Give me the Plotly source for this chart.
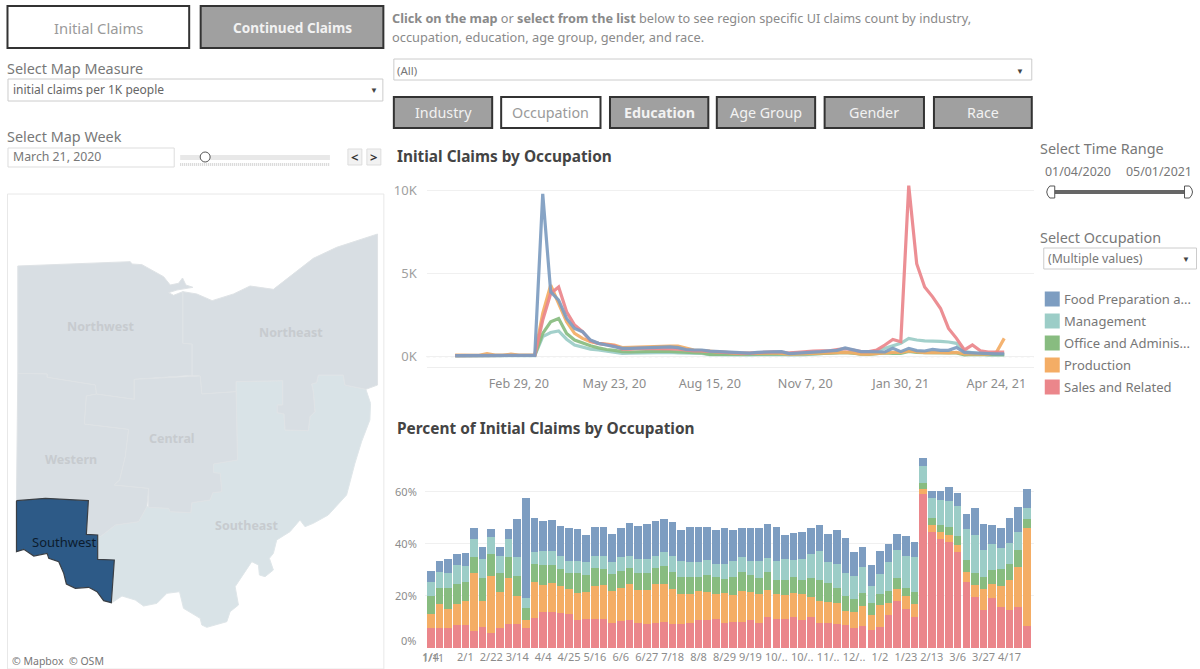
import pandas as pd
import plotly.graph_objects as go

W, H = 1200, 669
weeks = pd.date_range("2020-01-04", "2021-05-01", freq="7D")

legend_labels = ["Food Preparation a...", "Management", "Office and Adminis...", "Production", "Sales and Related"]
colors = {"food": "#7d9dc1", "management": "#9ccdc7", "office": "#88bc80", "production": "#f4ad65", "sales": "#eb868b"}

claims_food = [60,60,60,60,60,60,60,60,60,60,80,9800,3900,3400,2300,1700,1500,1000,800,700,
               620,500,500,520,550,580,600,590,540,430,400,400,330,300,280,230,200,210,260,270,
               280,300,180,200,230,270,300,350,380,520,430,300,300,280,280,500,300,500,360,340,
               430,380,380,550,250,230,200,170,170,170]
claims_management = [50,50,50,50,50,50,50,50,50,50,60,1200,1450,1550,1050,700,550,450,400,330,
                     280,200,210,220,250,260,250,250,220,200,190,190,120,110,110,100,110,110,120,130,
                     130,130,100,100,120,160,180,210,230,260,220,170,200,350,520,680,800,1100,1000,950,
                     950,920,880,800,300,250,160,110,110,110]
claims_office = [60,60,60,60,60,60,60,60,60,60,70,1400,2100,2300,1400,1000,800,650,530,430,
                 380,300,280,290,320,340,330,310,300,260,240,220,140,140,140,130,130,130,140,150,
                 150,150,120,120,160,170,190,220,240,250,210,150,140,200,220,190,190,310,250,240,
                 220,220,220,220,100,140,140,120,120,120]
claims_production = [90,90,90,80,180,90,90,150,90,90,100,2600,4300,3200,2100,1400,1100,900,800,750,
                     700,550,570,580,600,600,640,640,640,500,400,360,330,280,240,200,180,190,210,210,
                     230,200,150,170,190,200,220,260,270,260,220,150,150,200,220,250,250,350,280,240,
                     250,220,230,260,170,170,170,150,250,1100]
claims_sales = [60,60,60,60,60,60,60,60,60,60,70,2200,3800,4200,2700,1900,1500,950,800,720,
                650,450,450,500,500,500,500,470,450,380,350,350,300,280,250,220,210,210,240,260,
                290,280,220,250,300,330,350,350,420,480,400,300,300,400,700,1030,900,10300,5600,4200,
                3600,2900,1700,1100,400,700,350,280,270,280]

pct_sales = [7.7,7.7,7.7,8.7,8.7,6.4,7.9,5.8,7.6,9.2,
             9.2,7.7,11.4,13.8,14.0,13.5,13.1,10.6,11.0,11.0,
             11.0,9.7,10.5,10.6,9.7,9.2,9.7,10.1,9.2,9.2,
             9.7,10.6,10.6,11.0,9.7,10.1,10.1,10.6,9.7,11.8,
             11.0,11.0,11.8,10.6,11.8,9.7,9.7,9.2,8.8,7.6,
             8.5,6.8,7.9,12.6,18.2,14.9,11.8,59.2,44.4,41.8,
             40.5,36.8,25.4,19.5,14.4,19.1,15.6,14.4,15.6,8.5]
pct_production = [5.4,9.2,7.1,8.2,9.5,22.3,10.1,21.8,14.0,17.8,
                  10.6,2.9,14.0,10.3,10.9,10.3,9.4,10.4,10.5,12.7,
                  13.1,12.2,12.7,13.8,12.7,13.2,14.7,14.4,13.6,11.4,
                  10.9,11.3,10.9,9.9,11.3,10.1,11.8,10.9,10.9,10.6,
                  9.6,9.2,9.2,10.0,7.6,8.5,7.9,8.1,5.5,6.3,
                  7.6,5.8,8.5,4.7,4.6,5.0,5.1,1.7,2.9,2.6,
                  2.9,2.9,3.8,4.6,8.1,5.4,8.1,11.8,15.6,37.6]
pct_office = [6.8,6.3,8.1,7.8,7.2,6.4,9.0,8.3,7.2,8.1,
              7.7,4.6,6.8,7.6,6.8,6.7,6.3,7.7,6.4,7.2,
              6.3,6.4,6.4,6.4,6.3,6.3,6.4,6.8,6.3,6.8,
              6.8,5.5,6.4,6.5,5.6,7.2,7.2,6.4,6.4,6.7,
              5.5,5.9,6.4,5.5,7.3,7.9,7.2,5.9,5.5,5.1,
              5.0,4.7,4.2,4.6,4.2,3.3,4.6,2.6,2.6,2.9,
              2.9,3.3,4.6,4.6,4.6,5.5,6.7,5.9,6.3,3.5]
pct_management = [5.4,5.9,5.8,7.3,5.9,6.7,7.2,6.7,6.4,6.7,
                  7.6,4.1,4.6,5.5,5.5,4.7,4.6,4.6,5.0,4.6,
                  5.1,4.6,5.5,4.6,5.5,5.5,4.6,5.5,6.4,5.9,
                  5.5,5.5,5.8,5.0,5.8,5.9,5.9,5.4,6.3,5.5,
                  7.2,8.1,6.3,8.1,9.2,11.0,8.1,9.2,8.8,8.5,
                  9.9,6.4,7.7,11.0,10.5,12.3,13.5,6.4,7.6,9.7,
                  10.1,11.4,11.8,14.7,10.5,10.1,8.1,8.1,7.2,4.2]
pct_food = [4.4,4.2,5.6,4.2,5.0,4.2,4.6,3.1,3.7,3.8,
            14.4,38.1,13.1,11.4,11.8,11.8,12.7,12.3,10.5,11.0,
            11.0,11.0,10.9,12.7,12.7,13.5,13.5,12.7,12.7,11.9,
            13.6,13.6,12.8,12.8,13.6,11.9,11.0,12.7,12.7,13.1,
            13.2,9.2,10.3,10.5,10.1,10.1,11.0,12.8,13.5,9.4,
            7.9,8.3,8.8,7.2,6.4,7.6,5.5,2.9,2.9,3.3,
            5.5,5.1,5.9,10.3,10.1,7.2,7.6,9.7,9.4,7.2]

line_tick_dates = ["2020-02-29", "2020-05-23", "2020-08-15", "2020-11-07", "2021-01-30", "2021-04-24"]
line_tick_text = ["Feb 29, 20", "May 23, 20", "Aug 15, 20", "Nov 7, 20", "Jan 30, 21", "Apr 24, 21"]
bar_tick_dates = ["2020-01-04", "2020-02-01", "2020-02-22", "2020-03-14", "2020-04-04", "2020-04-25", "2020-05-16",
                  "2020-06-06", "2020-06-27", "2020-07-18", "2020-08-08", "2020-08-29", "2020-09-19", "2020-10-10",
                  "2020-10-31", "2020-11-21", "2020-12-12", "2021-01-02", "2021-01-23", "2021-02-13", "2021-03-06",
                  "2021-03-27", "2021-04-17"]
bar_tick_text = ["1/4", "2/1", "2/22", "3/14", "4/4", "4/25", "5/16", "6/6", "6/27", "7/18", "8/8", "8/29", "9/19",
                 "10/..", "10/..", "11/..", "12/..", "1/2", "1/23", "2/13", "3/6", "3/27", "4/17"]

# Region outlines
northwest = [(52,228),(390,215),(395,222),(425,224),(490,260),(510,285),(535,280),(547,264),(557,285),(578,292),(530,300),(505,308),(520,316),(548,305),
             (548,460),(576,462),(576,556),(402,568),(402,628),(288,612),(285,585),(200,572),(140,562),(140,552),(52,550)]
northeast = [(548,305),(590,312),(636,332),(700,312),(750,288),(820,298),(940,205),(1010,172),(1133,132),(1133,585),(1098,598),(1035,585),(1030,555),(955,555),
             (950,578),(935,582),(940,605),(945,665),(930,680),(925,722),(855,720),(852,672),(832,668),(832,645),(848,645),(848,572),(708,575),(708,605),(605,612),(600,558),(576,556),(576,462),(548,460)]
western = [(52,550),(140,552),(140,562),(200,572),(285,585),(288,612),(258,618),(252,702),(385,718),(375,800),(358,870),(342,885),(445,895),(440,950),(415,995),
           (345,1005),(300,1040),(292,1035),(258,1033),(264,932),(135,925),(48,932)]
central = [(258,618),(288,612),(402,628),(402,568),(600,558),(605,612),(708,605),(712,810),(640,822),(640,848),(660,850),(665,905),(638,908),(630,930),(575,938),
           (572,968),(510,965),(505,955),(445,952),(445,895),(342,885),(358,870),(375,800),(385,718),(252,702)]
southeast = [(708,575),(848,572),(848,645),(832,645),(832,668),(852,672),(855,720),(925,722),(930,680),(945,665),(940,605),(935,582),(950,578),(955,555),(1030,555),
             (1035,585),(1098,598),(1112,640),(1110,690),(1085,755),(1065,820),(1050,880),(1040,915),(985,975),(940,1000),(915,1010),(900,990),(870,1025),(830,1050),
             (820,1090),(808,1105),(820,1140),(795,1160),(778,1155),(775,1125),(755,1115),(725,1160),(705,1190),(715,1245),(690,1265),(680,1295),(620,1312),(605,1305),
             (600,1285),(550,1255),(538,1205),(500,1210),(470,1240),(430,1248),(405,1230),(365,1218),(335,1238),(342,1110),(292,1108),(292,1035),(300,1040),(345,1005),
             (415,995),(440,950),(505,955),(510,965),(572,968),(575,938),(630,930),(638,908),(665,905),(660,850),(640,848),(640,822),(712,810)]
southwest = [(48,932),(135,925),(264,932),(258,1033),(292,1035),(292,1108),(342,1110),(333,1238),(310,1232),(290,1205),(265,1192),(225,1195),(198,1182),(190,1150),
             (175,1115),(145,1105),(140,1090),(100,1098),(70,1078),(48,1085)]
region_labels = [("Northwest", 303, 408), ("Northeast", 874, 426), ("Central", 514, 745), ("Western", 213, 808), ("Southeast", 742, 1006)]

FONT = "Noto Sans"
SHIFT = 1.5
fig = go.Figure()

# Map
for name, poly, fill, edge, width in [
    ("Southeast", southeast, "#d9e3e7", "#dfe6e9", 1),
    ("Northwest", northwest, "#d8dee3", "#dfe3e6", 1),
    ("Northeast", northeast, "#d8dee3", "#dfe3e6", 1),
    ("Western", western, "#d8dee3", "#dfe3e6", 1),
    ("Central", central, "#d8dee3", "#dfe3e6", 1),
    ("Southwest", southwest, "#2d5a87", "#3a3f45", 1.2),
]:
    xs = [p[0] for p in poly] + [poly[0][0]]
    ys = [p[1] for p in poly] + [poly[0][1]]
    fig.add_trace(go.Scatter(x=xs, y=ys, name=name, mode="lines", fill="toself", fillcolor=fill,
                             line=dict(color=edge, width=width), xaxis="x3", yaxis="y3",
                             hoverinfo="name", showlegend=False))

# Line chart
for key, vals, label in [("management", claims_management, "Management"), ("office", claims_office, "Office and Administrative"),
                         ("production", claims_production, "Production"), ("sales", claims_sales, "Sales and Related"),
                         ("food", claims_food, "Food Preparation and Serving")]:
    fig.add_trace(go.Scatter(x=weeks, y=vals, name=label, mode="lines", line=dict(color=colors[key], width=3.2),
                             opacity=0.92, showlegend=False, xaxis="x", yaxis="y"))

# Stacked bars
for key, vals, label in [("sales", pct_sales, "Sales and Related"), ("production", pct_production, "Production"),
                         ("office", pct_office, "Office and Administrative"), ("management", pct_management, "Management"),
                         ("food", pct_food, "Food Preparation and Serving")]:
    fig.add_trace(go.Bar(x=weeks, y=vals, name=label, marker=dict(color=colors[key], line=dict(width=0)),
                         showlegend=False, xaxis="x2", yaxis="y2"))

shapes, annos = [], []
fx = lambda px: (px - SHIFT) / W
fy = lambda py: 1 - py / H

def rect(x0, y0, x1, y1, fill="white", line="#cccccc", width=1, layer="above"):
    shapes.append(dict(type="rect", xref="paper", yref="paper", x0=fx(x0), x1=fx(x1), y0=fy(y1), y1=fy(y0),
                       fillcolor=fill, line=dict(color=line, width=width), layer=layer))

def text(x, y, s, size=12, color="#7f7f7f", anchor="left"):
    nudge = 1.5 if anchor == "left" else 0
    annos.append(dict(xref="paper", yref="paper", x=fx(x - nudge), y=fy(y), text=s, showarrow=False, xanchor=anchor,
                      yanchor="middle", borderpad=0, font=dict(family=FONT, size=size, color=color)))

# map frame
rect(7, 194, 384, 669, fill="rgba(0,0,0,0)", line="#e8e8e8", layer="below")
text(12, 661, "© Mapbox  © OSM", 10.5, "#777777")
for name, mx, my in region_labels:
    annos.append(dict(xref="x3", yref="y3", x=mx, y=my, text="<b>" + name + "</b>", showarrow=False,
                      font=dict(family=FONT, size=12.5, color="#c7cbcf")))
annos.append(dict(xref="x3", yref="y3", x=192, y=1056, text="Southwest", showarrow=False,
                  font=dict(family=FONT, size=13, color="#0c1c2e")))

# claim type buttons
rect(7, 6, 189, 48, "white", "#333333", 2)
text(98, 28, "Initial Claims", 14.8, "#9a9a9a", "center")
rect(200.5, 6, 383.5, 48, "#a0a0a0", "#333333", 2)
text(292, 28, "<b>Continued Claims</b>", 13.6, "#f2f2f2", "center")

text(7, 69, "Select Map Measure", 14.4, "#787878")
rect(7.5, 79, 383, 101, "white", "#cccccc")
text(13, 90, "initial claims per 1K people", 12, "#666666")
text(374, 90, "▼", 8, "#444444", "center")

text(7, 136, "Select Map Week", 14.4, "#787878")
rect(7.5, 148, 174, 167, "white", "#dddddd")
text(13, 157, "March 21, 2020", 12.3, "#777777")
rect(180, 155, 330, 160, "#e8e8e8", "#e8e8e8", 0)
shapes.append(dict(type="line", xref="paper", yref="paper", x0=fx(180), x1=fx(330), y0=fy(164.5), y1=fy(164.5),
                   line=dict(color="#d4d4d4", width=3, dash="1px,1px")))
shapes.append(dict(type="circle", xref="paper", yref="paper", x0=fx(200), x1=fx(210), y0=fy(162), y1=fy(152),
                   fillcolor="white", line=dict(color="#555555", width=1)))
rect(348, 149, 362, 165, "#f2f2f2", "#dddddd")
rect(367, 149, 381, 165, "#f2f2f2", "#dddddd")
text(355, 157, "<b>&lt;</b>", 13, "#333333", "center")
text(374, 157, "<b>&gt;</b>", 13, "#333333", "center")

# description and region list
text(393, 18, "<b>Click on the map</b> or <b>select from the list</b> below to see region specific UI claims count by industry,", 12.7, "#8a8a8a")
text(393, 37, "occupation, education, age group, gender, and race.", 12.8, "#8a8a8a")
rect(394, 59, 1033, 80, "white", "#cccccc")
text(398, 70, "(All)", 11.5, "#777777")
text(1021, 70, "▼", 8, "#444444", "center")

# tabs
for label, x0, x1, active, bold in [("Industry", 394, 492.5, False, False), ("Occupation", 501.5, 601, True, False),
                                    ("Education", 610.5, 709, False, True), ("Age Group", 717.5, 816, False, False),
                                    ("Gender", 825.5, 925, False, False), ("Race", 935, 1033, False, False)]:
    rect(x0, 97, x1, 128, "white" if active else "#a0a0a0", "#333333", 2)
    shown = "<b>" + label + "</b>" if bold else label
    text((x0 + x1) / 2, 113, shown, 14.3, "#9a9a9a" if active else "#f2f2f2", "center")

text(398, 156.5, "<b>Initial Claims by Occupation</b>", 15.4, "#444444")
text(398, 428.5, "<b>Percent of Initial Claims by Occupation</b>", 15.4, "#444444")

# time range control
text(1042, 148, "Select Time Range", 14.4, "#787878")
text(1047, 171, "01/04/2020", 12.4, "#777777")
text(1128, 171, "05/01/2021", 12.4, "#777777")
rect(1052, 190, 1190, 194, "#666666", "#666666", 0)
shapes.append(dict(type="path", xref="paper", yref="paper",
                   path=f"M {fx(1056)} {fy(186)} L {fx(1051)} {fy(186)} Q {fx(1045)} {fy(192)} {fx(1051)} {fy(198)} L {fx(1056)} {fy(198)} Z",
                   fillcolor="white", line=dict(color="#555555", width=1)))
shapes.append(dict(type="path", xref="paper", yref="paper",
                   path=f"M {fx(1186)} {fy(186)} L {fx(1191)} {fy(186)} Q {fx(1197)} {fy(192)} {fx(1191)} {fy(198)} L {fx(1186)} {fy(198)} Z",
                   fillcolor="white", line=dict(color="#555555", width=1)))

text(1042, 237, "Select Occupation", 14.4, "#787878")
rect(1045, 248, 1198, 269, "white", "#cccccc")
text(1050, 258, "(Multiple values)", 12.3, "#777777")
text(1187, 258, "▼", 8, "#444444", "center")

for label, key, ly in zip(legend_labels, ["food", "management", "office", "production", "sales"], [299, 321, 343, 365, 387]):
    rect(1046, ly - 7.5, 1061, ly + 7.5, colors[key], colors[key], 0)
    text(1066, ly, label, 13, "#777777")

# dotted zero line of the line chart
shapes.append(dict(type="line", xref="x domain", yref="y", x0=0, x1=1, y0=0, y1=0, layer="below",
                   line=dict(color="#bbbbbb", width=1, dash="dot")))

# 0% label and the second overlapping first-week label sit apart from their ticks in the reference
text(417, 640, "0%", 11, "#8c8c8c", "right")
text(433, 658, "1/11", 10.5, "#8c8c8c", "center")

axis_font = dict(family=FONT, size=12.6, color="#8c8c8c")
fig.update_layout(
    width=W, height=H, margin=dict(l=0, r=0, t=0, b=0), autosize=False,
    paper_bgcolor="white", plot_bgcolor="rgba(0,0,0,0)", barmode="stack", bargap=0.12,
    shapes=shapes, annotations=annos, showlegend=False,
    xaxis=dict(domain=[fx(427), fx(1035)], anchor="y", type="date", range=["2019-12-10", "2021-05-27"],
               tickmode="array", tickvals=line_tick_dates, ticktext=line_tick_text, tickangle=0,
               showgrid=False, showline=True, linecolor="#eeeeee", ticks="", ticklabelstandoff=5, tickfont=axis_font),
    yaxis=dict(domain=[fy(367), fy(178)], anchor="x", range=[-625, 10760], tickmode="array",
               tickvals=[0, 5000, 10000], ticktext=["0K", "5K", "10K"], showgrid=True, gridcolor="#f0f0f0",
               zeroline=False, showline=False, ticks="", ticklabelstandoff=9,
               tickfont=dict(family=FONT, size=13, color="#a0a0a0")),
    xaxis2=dict(domain=[fx(425), fx(1035)], anchor="y2", type="date", range=["2019-12-30 03:00", "2021-05-06 16:00"],
                tickmode="array", tickvals=bar_tick_dates, ticktext=bar_tick_text, tickangle=0,
                showgrid=False, showline=False, ticks="", ticklabelstandoff=1,
                tickfont=dict(family=FONT, size=11, color="#8c8c8c")),
    yaxis2=dict(domain=[fy(648), fy(450)], anchor="x2", range=[0, 76], tickmode="array",
                tickvals=[0, 20, 40, 60], ticktext=["", "20%", "40%", "60%"], showgrid=True, gridcolor="#f0f0f0",
                zeroline=False, ticks="", ticklabelstandoff=7, tickfont=dict(family=FONT, size=11, color="#8c8c8c")),
    xaxis3=dict(domain=[0, fx(390)], anchor="y3", range=[SHIFT * 3, 1170], visible=False, fixedrange=True),
    yaxis3=dict(domain=[0, fy(190)], anchor="x3", range=[1437, 0], visible=False, fixedrange=True),
)

fig.write_html("out.html", config={"displayModeBar": False},
               post_script="document.body.style.margin='0';document.body.style.overflow='hidden';")
